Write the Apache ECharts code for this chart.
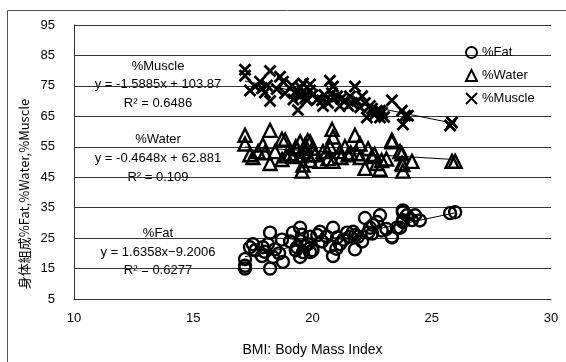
<!DOCTYPE html>
<html>
<head>
<meta charset="utf-8">
<script src="https://cdn.jsdelivr.net/npm/echarts@6/dist/echarts.min.js"></script>
<style>
  html, body { margin: 0; padding: 0; background: #fff; }
  #chart { width: 566px; height: 362px; }
</style>
</head>
<body>
<div id="chart"></div>
<script>
// 散布図データ [BMI, %]
const fatPoints = [
  [17.17, 18.1], [17.17, 15.9], [17.17, 15.0], [17.38, 22.0], [17.50, 23.0], [17.6, 21.0],
  [17.88, 19.1], [17.92, 22.0], [18.0, 20.5], [18.13, 23.0], [18.22, 15.0], [18.22, 26.8],
  [18.34, 18.8], [18.43, 21.3], [18.6, 20.0], [18.72, 24.5], [18.76, 17.2], [19.06, 23.9],
  [19.18, 26.8], [19.3, 21.0], [19.35, 22.0], [19.48, 28.4], [19.48, 18.8], [19.5, 24.0],
  [19.56, 26.1], [19.60, 20.4], [19.7, 22.5], [19.81, 23.0], [19.9, 25.5], [19.90, 20.4],
  [20.0, 21.0], [20.2, 26.0], [20.31, 27.1], [20.40, 23.9], [20.6, 25.5], [20.73, 22.3],
  [20.86, 19.1], [20.86, 28.4], [21.0, 21.5], [21.03, 25.2], [21.15, 23.0], [21.3, 24.5],
  [21.45, 26.8], [21.57, 25.5], [21.70, 27.1], [21.78, 21.3], [21.8, 26.0], [21.91, 25.5],
  [22.08, 23.9], [22.20, 31.6], [22.33, 26.8], [22.41, 28.4], [22.5, 26.5], [22.54, 29.3],
  [22.70, 30.3], [22.83, 32.5], [22.9, 27.5], [23.1, 28.0], [23.33, 25.5], [23.33, 25.2],
  [23.54, 28.4], [23.67, 28.4], [23.79, 33.5], [23.79, 30.9], [23.79, 34.1], [23.79, 30.3],
  [23.96, 32.5], [24.17, 30.9], [24.3, 32.5], [24.5, 30.8], [25.77, 33.2], [25.98, 33.5]
];
const waterPoints = [
  [17.17, 58.8], [17.17, 55.9], [17.38, 52.4], [17.5, 51.5], [17.72, 53.4], [17.92, 55.6],
  [18.0, 53.0], [18.22, 60.4], [18.22, 49.5], [18.43, 53.4], [18.72, 57.5], [18.72, 50.8],
  [18.85, 57.2], [18.9, 52.0], [19.06, 52.7], [19.18, 51.8], [19.3, 55.0], [19.35, 54.3],
  [19.48, 56.6], [19.5, 52.0], [19.56, 47.0], [19.6, 49.0], [19.69, 55.6], [19.7, 53.5],
  [19.8, 57.0], [19.81, 52.4], [19.9, 50.5], [19.90, 56.6], [20.0, 54.5], [20.10, 52.4],
  [20.31, 50.2], [20.44, 53.4], [20.6, 53.5], [20.65, 51.1], [20.73, 55.0], [20.82, 60.7],
  [20.86, 58.2], [20.86, 50.2], [21.15, 53.4], [21.2, 51.5], [21.36, 55.0], [21.49, 52.4],
  [21.6, 53.0], [21.78, 58.8], [21.87, 52.7], [21.99, 55.9], [22.0, 51.5], [22.20, 47.9],
  [22.33, 54.3], [22.49, 51.8], [22.6, 52.5], [22.70, 49.5], [22.83, 47.6], [22.9, 50.5],
  [23.1, 51.0], [23.33, 56.6], [23.33, 57.2], [23.67, 53.4], [23.75, 52.7], [23.75, 49.5],
  [23.79, 49.2], [23.79, 47.0], [24.17, 50.2], [25.85, 50.2], [25.98, 50.2]
];
const musclePoints = [
  [17.17, 80.3], [17.17, 78.3], [17.38, 73.5], [17.6, 74.8], [17.80, 76.4], [17.88, 74.2],
  [18.0, 72.8], [18.09, 75.1], [18.22, 79.9], [18.22, 70.0], [18.5, 74.0], [18.64, 78.0],
  [18.76, 76.4], [18.85, 72.6], [19.14, 75.1], [19.2, 70.5], [19.3, 72.5], [19.35, 73.5],
  [19.39, 67.1], [19.48, 71.6], [19.5, 74.5], [19.6, 73.0], [19.60, 75.8], [19.7, 71.0],
  [19.77, 70.3], [19.9, 75.5], [19.90, 73.5], [20.0, 72.0], [20.2, 70.5], [20.40, 70.3],
  [20.44, 68.4], [20.5, 72.0], [20.65, 69.4], [20.73, 76.7], [20.82, 72.6], [20.86, 74.8],
  [20.9, 71.0], [21.03, 71.6], [21.15, 68.4], [21.2, 70.8], [21.36, 70.3], [21.5, 68.5],
  [21.57, 71.6], [21.66, 69.4], [21.78, 74.8], [21.87, 70.0], [22.0, 68.0], [22.08, 71.6],
  [22.20, 69.4], [22.28, 64.6], [22.41, 68.4], [22.5, 67.5], [22.6, 65.5], [22.70, 66.8],
  [22.83, 64.6], [22.83, 66.8], [22.91, 66.2], [23.0, 64.8], [23.33, 70.3], [23.75, 66.8],
  [23.79, 62.3], [23.88, 65.2], [24.00, 65.2], [25.77, 62.0], [25.85, 63.0]
];

// 近似直線の両端
const fatTrend = [[17.17, 18.9], [25.98, 33.3]];
const waterTrend = [[17.17, 54.9], [25.98, 50.8]];
const muscleTrend = [[17.17, 76.6], [25.98, 62.6]];

// 近似式ラベル
const fatLabels = ['%Fat', 'y = 1.6358x\u22129.2006', 'R\u00b2 = 0.6277'];
const waterLabels = ['%Water', 'y = -0.4648x + 62.881', 'R\u00b2 = 0.109'];
const muscleLabels = ['%Muscle', 'y = -1.5885x + 103.87', 'R\u00b2 = 0.6486'];

const FONT = '"Liberation Sans", Arial, "Noto Sans CJK JP", sans-serif';
const CROSS = 'path://M0,0L10,10M10,0L0,10';

const chart = echarts.init(document.getElementById('chart'));

const textBlock = (lines, ys) => lines.map((t, i) => ({
  type: 'text',
  style: {
    text: t, x: 158, y: ys[i], align: 'center', verticalAlign: 'middle',
    font: '13px ' + FONT, fill: '#000'
  }
}));

const scatter = (name, data, symbol, size, bw) => ({
  name: name,
  type: 'scatter',
  data: data,
  symbol: symbol,
  symbolSize: size,
  itemStyle: { color: 'rgba(0,0,0,0)', borderColor: '#000', borderWidth: bw, opacity: 1 },
  z: 3
});

const trend = (data) => ({
  type: 'line',
  data: data,
  symbol: 'none',
  silent: true,
  lineStyle: { color: '#000', width: 1 },
  z: 2
});

const option = {
  backgroundColor: '#fff',
  animation: false,
  textStyle: { fontFamily: FONT },
  grid: { left: 74, top: 25, right: 15, bottom: 57 },
  legend: {
    data: ['%Fat', '%Water', '%Muscle'],
    orient: 'vertical',
    left: 460,
    top: 41,
    itemWidth: 11,
    itemHeight: 11,
    itemGap: 10,
    textStyle: { fontSize: 13, color: '#000', fontFamily: FONT }
  },
  xAxis: {
    type: 'value',
    min: 10, max: 30, interval: 5,
    name: 'BMI: Body Mass Index',
    nameLocation: 'middle',
    nameGap: 44,
    nameTextStyle: { fontSize: 14, color: '#000' },
    axisLine: { show: true, lineStyle: { color: '#333' } },
    axisTick: { show: false },
    axisLabel: { fontSize: 13, color: '#000', margin: 13 },
    splitLine: { show: false }
  },
  yAxis: {
    type: 'value',
    min: 5, max: 95, interval: 10,
    axisLine: { show: true, lineStyle: { color: '#333' } },
    axisTick: { show: false },
    axisLabel: { fontSize: 13, color: '#000', margin: 19 },
    splitLine: { show: true, lineStyle: { color: '#333', width: 1 } }
  },
  graphic: [
    {
      type: 'rect',
      shape: { x: 7.5, y: 10.5, width: 600, height: 400 },
      style: { fill: 'none', stroke: '#555', lineWidth: 1 },
      silent: true
    },
    {
      type: 'text',
      x: 24, y: 194, rotation: Math.PI / 2,
      style: {
        text: '身体組成%Fat,%Water,%Muscle', align: 'center', verticalAlign: 'middle',
        font: '13px "Noto Sans CJK JP", sans-serif', fill: '#000'
      }
    },
    ...textBlock(muscleLabels, [66, 84, 103]),
    ...textBlock(waterLabels, [139, 158, 177]),
    ...textBlock(fatLabels, [233, 252, 270])
  ],
  series: [
    trend(fatTrend),
    trend(waterTrend),
    trend(muscleTrend),
    scatter('%Fat', fatPoints, 'circle', 12, 2.4),
    scatter('%Water', waterPoints, 'triangle', 13, 2.4),
    scatter('%Muscle', musclePoints, CROSS, 11, 2.8)
  ]
};

chart.setOption(option);
window.addEventListener('resize', () => chart.resize());
</script>
</body>
</html>
